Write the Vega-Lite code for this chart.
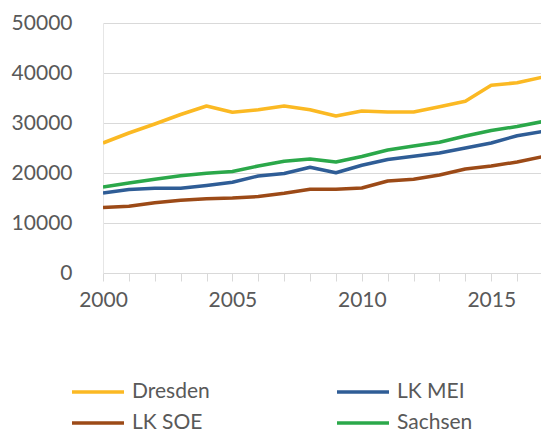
{
  "$schema": "https://vega.github.io/schema/vega-lite/v6.json",
  "autosize": {"type": "none"},
  "padding": {"left": 103, "top": 23, "right": 0, "bottom": 161},
  "width": 440,
  "height": 250,
  "background": "white",
  "config": {
    "view": {"stroke": null},
    "font": "Lato",
    "axis": {"labelFont": "Lato", "labelFontSize": 21, "labelColor": "#595959"},
    "legend": {"labelFont": "Lato", "labelFontSize": 21, "labelColor": "#595959"}
  },
  "data": {
    "values": [
      {"year": 2000, "Dresden": 26000, "LK MEI": 16000, "LK SOE": 13100, "Sachsen": 17200},
      {"year": 2001, "Dresden": 28000, "LK MEI": 16700, "LK SOE": 13350, "Sachsen": 18000},
      {"year": 2002, "Dresden": 29800, "LK MEI": 16950, "LK SOE": 14050, "Sachsen": 18750},
      {"year": 2003, "Dresden": 31700, "LK MEI": 16950, "LK SOE": 14550, "Sachsen": 19450},
      {"year": 2004, "Dresden": 33400, "LK MEI": 17500, "LK SOE": 14850, "Sachsen": 19950},
      {"year": 2005, "Dresden": 32150, "LK MEI": 18150, "LK SOE": 15000, "Sachsen": 20300},
      {"year": 2006, "Dresden": 32650, "LK MEI": 19400, "LK SOE": 15300, "Sachsen": 21400},
      {"year": 2007, "Dresden": 33400, "LK MEI": 19900, "LK SOE": 15950, "Sachsen": 22350},
      {"year": 2008, "Dresden": 32650, "LK MEI": 21150, "LK SOE": 16750, "Sachsen": 22800},
      {"year": 2009, "Dresden": 31400, "LK MEI": 20050, "LK SOE": 16750, "Sachsen": 22200},
      {"year": 2010, "Dresden": 32400, "LK MEI": 21550, "LK SOE": 17000, "Sachsen": 23300},
      {"year": 2011, "Dresden": 32200, "LK MEI": 22700, "LK SOE": 18400, "Sachsen": 24600},
      {"year": 2012, "Dresden": 32200, "LK MEI": 23350, "LK SOE": 18750, "Sachsen": 25400},
      {"year": 2013, "Dresden": 33250, "LK MEI": 24000, "LK SOE": 19600, "Sachsen": 26150},
      {"year": 2014, "Dresden": 34350, "LK MEI": 25000, "LK SOE": 20800, "Sachsen": 27400},
      {"year": 2015, "Dresden": 37550, "LK MEI": 26000, "LK SOE": 21400, "Sachsen": 28500},
      {"year": 2016, "Dresden": 38050, "LK MEI": 27450, "LK SOE": 22200, "Sachsen": 29300},
      {"year": 2017, "Dresden": 39200, "LK MEI": 28300, "LK SOE": 23300, "Sachsen": 30300}
    ]
  },
  "transform": [
    {"fold": ["Dresden", "LK MEI", "LK SOE", "Sachsen"], "as": ["region", "value"]}
  ],
  "mark": {"type": "line", "clip": true, "strokeJoin": "round", "strokeCap": "butt"},
  "encoding": {
    "x": {
      "field": "year",
      "type": "quantitative",
      "scale": {"domain": [2000, 2017], "nice": false, "zero": false},
      "axis": {
        "title": null,
        "values": [2000, 2001, 2002, 2003, 2004, 2005, 2006, 2007, 2008, 2009, 2010, 2011, 2012, 2013, 2014, 2015, 2016],
        "format": "d",
        "labelExpr": "datum.value % 5 === 0 ? datum.label : ''",
        "grid": false,
        "domainColor": "#d9d9d9",
        "domainWidth": 1,
        "tickColor": "#d9d9d9",
        "tickSize": 8,
        "labelPadding": 8,
        "labelFlush": false,
        "labelOverlap": false
      }
    },
    "y": {
      "field": "value",
      "type": "quantitative",
      "scale": {"domain": [0, 50000], "nice": false},
      "axis": {
        "title": null,
        "values": [0, 10000, 20000, 30000, 40000, 50000],
        "format": "d",
        "grid": true,
        "gridColor": "#d9d9d9",
        "gridWidth": 1,
        "domain": true,
        "domainColor": "#e6e6e6",
        "ticks": false,
        "labelPadding": 31,
        "labelBaseline": "middle"
      }
    },
    "color": {
      "field": "region",
      "type": "nominal",
      "scale": {
        "domain": ["Dresden", "LK MEI", "LK SOE", "Sachsen"],
        "range": ["#FBB923", "#2F5D96", "#9C4A17", "#2BA84A"]
      },
      "legend": {
        "title": null,
        "orient": "none",
        "direction": "horizontal",
        "legendX": -20,
        "legendY": 354,
        "columns": 2,
        "columnPadding": 120,
        "rowPadding": 6,
        "symbolType": "M-2,0H2",
        "symbolSize": 676,
        "symbolStrokeWidth": 4,
        "labelOffset": 19
      }
    },
    "strokeWidth": {
      "field": "region",
      "type": "nominal",
      "scale": {
        "domain": ["Dresden", "LK MEI", "LK SOE", "Sachsen"],
        "range": [3.5, 3.5, 3.2, 5.5]
      },
      "legend": null
    }
  }
}
